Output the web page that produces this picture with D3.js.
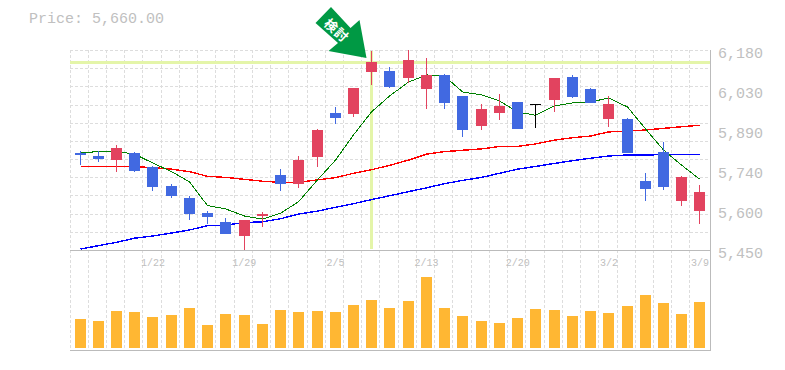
<!DOCTYPE html>
<html>
<head>
<meta charset="utf-8">
<script src="https://cdn.jsdelivr.net/npm/d3@7"></script>
<style>
    html, body { margin: 0; padding: 0; background: #fff; }
    svg { display: block; }
    text { font-family: "Liberation Mono", monospace; fill: #c0c0c0; }
</style>
</head>
<body>
<svg id="chart" width="785" height="370"></svg>
<script>
// one entry per trading day, only the labelled days have text
const dayLabels = ["","","","","1/22","","","","","1/29","","","","","2/5","","","","","2/13",
    "","","","","2/20","","","","","3/2","","","","","3/9"];

const opens  = [5804,5793,5778,5804,5753,5684,5640,5585,5552,5501,5574,5724,5691,5789,5950,5946,6100,6103,6078,6038,
    6089,6012,5903,5950,5990,5983,5998,6081,6038,5928,5928,5702,5808,5629,5592];
const highs  = [5812,5811,5833,5808,5757,5691,5647,5592,5567,5559,5589,5746,5793,5892,5972,6041,6176,6118,6180,6151,
    6092,6012,5983,6019,5990,5983,6078,6089,6041,6012,5932,5731,5844,5720,5687];
const lows   = [5760,5771,5735,5735,5665,5640,5559,5545,5508,5450,5534,5665,5676,5753,5910,5935,6052,6041,6060,5965,
    5965,5862,5888,5924,5892,5895,5954,6005,5987,5899,5804,5629,5669,5611,5545];
const closes = [5797,5782,5822,5738,5680,5647,5581,5570,5508,5559,5581,5691,5778,5888,5932,6041,6136,6045,6144,6089,
    5987,5888,5965,5976,5892,5983,6078,6008,5987,5983,5804,5673,5680,5716,5660];

const maShort = [5807,5808,5810,5800,5768,5736,5699,5612,5600,5574,5563,5584,5626,5706,5778,5870,5954,6012,6063,6089,
    6085,6027,6016,5994,5954,5942,5976,5987,5990,6005,5972,5892,5815,5760,5709];
const maMid   = [5755,5755,5755,5754,5751,5745,5736,5719,5715,5708,5701,5697,5697,5706,5714,5730,5743,5759,5778,5800,
    5809,5814,5819,5828,5828,5837,5851,5860,5866,5881,5884,5888,5894,5900,5905];
const maLong  = [5453,5466,5478,5493,5501,5512,5523,5539,5541,5550,5553,5564,5581,5592,5606,5619,5634,5648,5663,5677,
    5692,5704,5715,5730,5745,5755,5766,5776,5785,5793,5797,5797,5798,5799,5799];

const volumes = [29,27,37,36,31,33,40,23,34,33,24,38,36,37,36,43,48,40,47,71,
    40,32,27,25,30,39,38,32,37,35,42,53,45,34,46];

const priceTicks = [6180,6034,5888,5742,5596,5450];
const priceTitle = "Price: 5,660.00";
const signalDay = 16;
const signalPrice = 6136;
const signalText = "検討";

const colorUp = "#e2435f", colorDown = "#4169e1", colorGrid = "#ddd", colorFrame = "#bbb";

const svg = d3.select("#chart"),
    plotLeft = 70, plotRight = 710, plotTop = 50, plotMid = 250, plotBottom = 350,
    slot = 18.235,
    bodyWidth = 11;

let days = d3.range(dayLabels.length);

let x = d3.scaleBand().domain(days).range([plotLeft, plotLeft + slot * days.length]);
let y = d3.scaleLinear().domain([5450, 6180]).range([plotMid, plotTop]);
let yVol = d3.scaleLinear().domain([0, 100]).range([348, 248]);

let cell = i => Math.floor(x(i));
let cx = i => cell(i) + 10.5;

// grid
let grid = svg.append("g")
    .attr("stroke", colorGrid)
    .attr("stroke-dasharray", "3,2")
    .attr("shape-rendering", "crispEdges");

grid.selectAll(".v").data(days).enter().append("line")
    .attr("x1", d => cell(d) + 0.5).attr("x2", d => cell(d) + 0.5)
    .attr("y1", plotTop).attr("y2", plotBottom);

grid.selectAll(".h").data(d3.range(12).map(i => 6180 - i * 730 / 11)).enter().append("line")
    .attr("x1", plotLeft).attr("x2", plotRight)
    .attr("y1", d => Math.round(y(d)) + 0.5).attr("y2", d => Math.round(y(d)) + 0.5);

// frame
let frame = svg.append("g").attr("stroke", colorFrame).attr("shape-rendering", "crispEdges");
frame.append("line").attr("x1", plotLeft).attr("x2", plotRight + 1).attr("y1", plotMid + 0.5).attr("y2", plotMid + 0.5);
frame.append("line").attr("x1", plotLeft).attr("x2", plotRight + 1).attr("y1", plotBottom + 0.5).attr("y2", plotBottom + 0.5);
frame.append("line").attr("x1", plotRight + 0.5).attr("x2", plotRight + 0.5).attr("y1", plotTop).attr("y2", plotBottom);

// signal highlight
svg.append("rect").attr("x", plotLeft).attr("width", plotRight - plotLeft)
    .attr("y", Math.round(y(signalPrice)) - 1).attr("height", 3).attr("fill", "#e4f5a9");
svg.append("rect").attr("x", cx(signalDay) - 1.5).attr("width", 3)
    .attr("y", plotTop + 1).attr("height", plotMid - plotTop - 2).attr("fill", "#e4f5a9");

// moving averages
let maLine = d3.line().x((d, i) => cx(i)).y(d => y(d));
[[maLong, "#0000ff", 1.4], [maMid, "#ff0000", 1.4], [maShort, "#008000", 1]].forEach(m => {
    svg.append("path").attr("d", maLine(m[0]))
        .attr("fill", "none")
        .attr("stroke", m[1])
        .attr("stroke-width", m[2])
        .attr("shape-rendering", "crispEdges");
});

// candles
let candleColor = i => closes[i] > opens[i] ? colorUp : closes[i] < opens[i] ? colorDown : "#000";
let candles = svg.append("g").attr("shape-rendering", "crispEdges");

candles.selectAll(".wick").data(days).enter().append("line")
    .attr("x1", cx).attr("x2", cx)
    .attr("y1", i => Math.round(y(highs[i]))).attr("y2", i => Math.round(y(lows[i])))
    .attr("stroke", candleColor);

candles.selectAll(".body").data(days).enter().append("rect")
    .attr("x", i => cell(i) + 5)
    .attr("width", bodyWidth)
    .attr("y", i => Math.round(y(Math.max(opens[i], closes[i]))))
    .attr("height", i => Math.max(1, Math.round(y(Math.min(opens[i], closes[i]))) - Math.round(y(Math.max(opens[i], closes[i])))))
    .attr("fill", candleColor);

// volume
svg.append("g").attr("shape-rendering", "crispEdges")
    .selectAll("rect").data(days).enter().append("rect")
    .attr("x", i => cell(i) + 5)
    .attr("width", bodyWidth)
    .attr("y", i => yVol(volumes[i]))
    .attr("height", i => yVol(0) - yVol(volumes[i]))
    .attr("fill", "#ffb733");

// axes
let priceAxis = d3.axisRight(y).tickValues(priceTicks).tickSize(0)
    .tickFormat(d => d3.format(",")(Math.round(d / 10) * 10));
let gy = svg.append("g").attr("transform", `translate(${plotRight},0)`).call(priceAxis);
gy.select(".domain").remove();
gy.selectAll("text").attr("x", 8).attr("dy", null).attr("y", 7).style("font-size", "15px");

let dateAxis = d3.axisBottom(x).tickValues(days.filter(i => dayLabels[i])).tickSize(0)
    .tickFormat(i => dayLabels[i]);
let gx = svg.append("g").attr("transform", `translate(1,${plotMid})`).call(dateAxis);
gx.select(".domain").remove();
gx.selectAll("text").attr("dy", null).attr("y", 16).style("font-size", "10px");

// title
svg.append("text").attr("x", 29).attr("y", 23).style("font-size", "15px").text(priceTitle);

// signal arrow, hung off the signal candle
let arrow = svg.append("g")
    .attr("transform", `translate(${cx(signalDay)},${Math.round(y(highs[signalDay]))})`);
arrow.append("path")
    .attr("d", "M-40.5,-44 L-56,-28 L-33.5,-8 L-43,0 L-5,7 L-12,-31 L-21,-23 Z")
    .attr("fill", "#009944");
arrow.append("text")
    .attr("transform", "translate(-34.5,-21) rotate(42)")
    .attr("text-anchor", "middle")
    .attr("dominant-baseline", "central")
    .style("font-family", "'Noto Sans CJK JP'")
    .style("font-size", "13px")
    .style("font-weight", "bold")
    .style("letter-spacing", "1px")
    .style("fill", "#fff")
    .text(signalText);
</script>
</body>
</html>
